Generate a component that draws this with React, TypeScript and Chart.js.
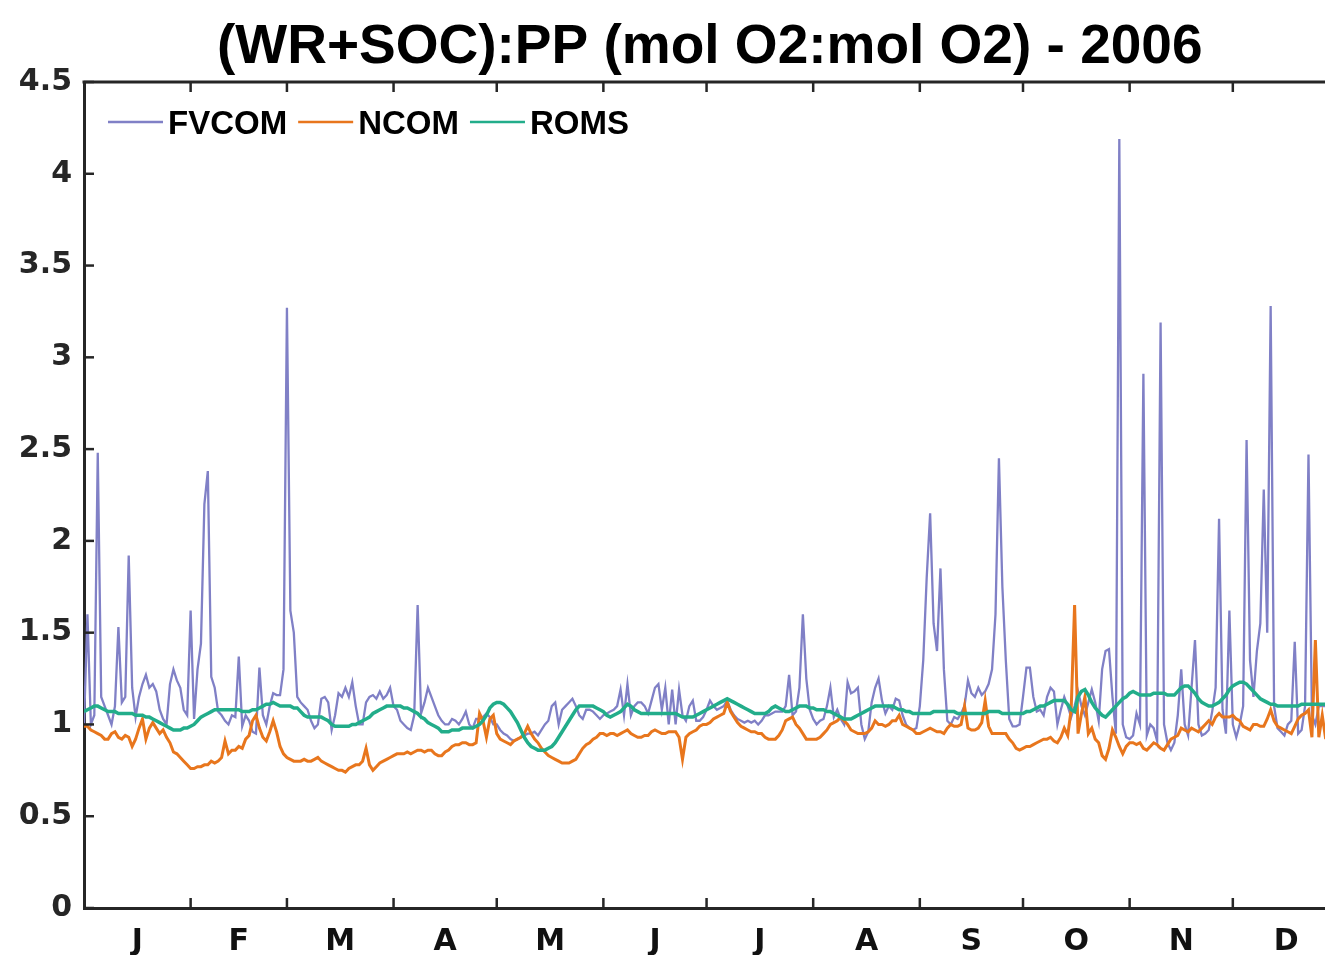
import React, { useEffect, useRef } from "react";
import { Chart, registerables } from "chart.js";

Chart.register(...registerables);

const TITLE = "(WR+SOC):PP (mol O2:mol O2) - 2006";
const SERIES_NAMES = ["FVCOM", "NCOM", "ROMS"];
const SERIES_COLORS = ["#8080c6", "#e8761d", "#22ad8a"];
const MONTH_LABELS = ["J", "F", "M", "A", "M", "J", "J", "A", "S", "O", "N", "D"];
const MONTH_STARTS = [0, 31, 59, 90, 120, 151, 181, 212, 243, 273, 304, 334, 365];
const Y_TICKS = [0, 0.5, 1, 1.5, 2, 2.5, 3, 3.5, 4, 4.5];

// daily values, day-of-year index 0..361
const FVCOM = [
  1.0, 1.6, 1.0, 1.05, 2.48, 1.15, 1.1, 1.05, 1.0, 1.1,
  1.53, 1.12, 1.15, 1.92, 1.2, 1.04, 1.15, 1.22, 1.27, 1.2,
  1.22, 1.18, 1.08, 1.03, 1.0, 1.22, 1.3, 1.24, 1.2, 1.08,
  1.05, 1.62, 1.03, 1.3, 1.44, 2.2, 2.38, 1.26, 1.2, 1.07,
  1.05, 1.02, 1.0, 1.05, 1.04, 1.37, 0.99, 1.05, 1.02, 0.96,
  0.95, 1.31, 1.05, 1.0, 1.1, 1.17, 1.16, 1.16, 1.3, 3.27,
  1.62, 1.5, 1.15, 1.12, 1.1, 1.08, 1.02, 0.98, 1.0, 1.14,
  1.15, 1.12, 0.97, 1.05, 1.17, 1.15, 1.2, 1.15, 1.23, 1.1,
  1.0, 1.0, 1.12, 1.15, 1.16, 1.14, 1.18, 1.14, 1.16, 1.2,
  1.1, 1.08, 1.02, 1.0, 0.98, 0.97, 1.05, 1.65, 1.06, 1.12,
  1.2, 1.15, 1.1, 1.05, 1.02, 1.0, 1.0, 1.03, 1.02, 1.0,
  1.03, 1.07, 1.0, 0.98, 1.03, 1.03, 1.04, 1.06, 1.04, 1.0,
  1.0, 0.97, 0.95, 0.94, 0.92, 0.91, 0.92, 0.93, 0.94, 0.95,
  0.95, 0.96, 0.94, 0.97, 1.0, 1.02, 1.1, 1.12, 1.0, 1.08,
  1.1, 1.12, 1.14, 1.1, 1.05, 1.03, 1.08, 1.08, 1.07, 1.05,
  1.03, 1.05, 1.06, 1.07, 1.08, 1.1, 1.19, 1.05, 1.22, 1.05,
  1.1, 1.12, 1.12, 1.1, 1.06, 1.13, 1.2, 1.22, 1.08, 1.2,
  1.0, 1.19, 1.0, 1.19, 1.05, 1.02, 1.1, 1.13, 1.02, 1.02,
  1.04, 1.08, 1.13, 1.1, 1.08, 1.09, 1.1, 1.13, 1.08, 1.05,
  1.03, 1.02, 1.01, 1.02, 1.01, 1.02, 1.0, 1.02, 1.05, 1.05,
  1.06, 1.07, 1.07, 1.07, 1.1, 1.27, 1.05, 1.07, 1.2, 1.6,
  1.25, 1.08, 1.03, 1.0, 1.02, 1.03, 1.1, 1.2, 1.04, 1.08,
  1.03, 1.0, 1.23, 1.17, 1.18, 1.2, 1.0, 0.92, 0.96, 1.12,
  1.2, 1.25, 1.13, 1.06, 1.1, 1.08, 1.14, 1.13, 1.05, 1.0,
  0.98, 0.97, 0.98, 1.1, 1.35, 1.8, 2.15, 1.55, 1.4, 1.85,
  1.3, 1.02, 1.0, 1.04, 1.03, 1.06, 1.1, 1.24, 1.17, 1.15,
  1.2, 1.16, 1.18, 1.22, 1.3, 1.6, 2.45, 1.75, 1.35, 1.03,
  0.99, 0.99, 1.0, 1.15, 1.31, 1.31, 1.15, 1.07, 1.08, 1.05,
  1.15, 1.2, 1.18, 1.0, 1.08, 1.15, 1.1, 1.04, 1.1, 1.18,
  1.1, 1.05, 1.12, 1.19, 1.12, 1.02, 1.3, 1.4, 1.41, 1.15,
  0.95, 4.19, 1.0, 0.93, 0.92, 0.94, 1.06, 1.0, 2.91, 0.94,
  1.0, 0.98, 0.91, 3.19, 1.0, 0.9, 0.86, 0.9, 1.05, 1.3,
  1.0, 0.94, 1.2, 1.46, 1.0, 0.94, 0.95, 0.97, 1.07, 1.2,
  2.12, 1.08, 0.95, 1.62, 1.0, 0.93, 1.0, 1.1, 2.55, 1.35,
  1.15, 1.4, 1.55, 2.28, 1.5, 3.28, 1.1, 0.98, 0.96, 0.94,
  1.0, 1.02, 1.45, 0.95, 0.97, 1.1, 2.47, 1.05, 1.0, 1.1,
  1.1, 1.1,
];

const NCOM = [
  0.99, 0.99, 0.97, 0.96, 0.95, 0.94, 0.92, 0.92, 0.95, 0.96,
  0.93, 0.92, 0.94, 0.93, 0.88, 0.92, 0.98, 1.03, 0.92, 0.98,
  1.01, 0.98, 0.95, 0.97, 0.93, 0.9, 0.85, 0.84, 0.82, 0.8,
  0.78, 0.76, 0.76, 0.77, 0.77, 0.78, 0.78, 0.8, 0.79, 0.8,
  0.82, 0.91, 0.84, 0.86, 0.86, 0.88, 0.87, 0.92, 0.94, 1.02,
  1.05, 0.98, 0.93, 0.91, 0.96, 1.02, 0.96, 0.88, 0.84, 0.82,
  0.81, 0.8, 0.8, 0.8, 0.81, 0.8, 0.8, 0.81, 0.82, 0.8,
  0.79, 0.78, 0.77, 0.76, 0.75, 0.75, 0.74, 0.76, 0.77, 0.78,
  0.78, 0.8, 0.87, 0.78, 0.75, 0.77, 0.79, 0.8, 0.81, 0.82,
  0.83, 0.84, 0.84, 0.84, 0.85, 0.84, 0.85, 0.86, 0.86, 0.85,
  0.86, 0.86, 0.84, 0.83, 0.83, 0.85, 0.86, 0.88, 0.89, 0.89,
  0.9, 0.9, 0.89, 0.89, 0.9, 1.06, 1.02, 0.93, 1.03, 1.05,
  0.95, 0.92, 0.91, 0.9, 0.89, 0.91, 0.92, 0.93, 0.95, 0.99,
  0.95, 0.92, 0.9, 0.87, 0.85, 0.83, 0.82, 0.81, 0.8, 0.79,
  0.79, 0.79, 0.8, 0.81, 0.84, 0.87, 0.89, 0.9, 0.92, 0.93,
  0.95, 0.95, 0.94, 0.95, 0.95, 0.94, 0.95, 0.96, 0.97, 0.95,
  0.94, 0.93, 0.93, 0.94, 0.94, 0.96, 0.97, 0.96, 0.95, 0.95,
  0.96, 0.96, 0.96, 0.93, 0.81, 0.93, 0.95, 0.96, 0.97, 0.99,
  1.0, 1.0, 1.01, 1.03, 1.04, 1.05, 1.06, 1.12, 1.07, 1.04,
  1.01, 0.99, 0.98, 0.97, 0.96, 0.96, 0.95, 0.95, 0.93, 0.92,
  0.92, 0.92, 0.94, 0.97, 1.02, 1.03, 1.04, 1.0, 0.98, 0.95,
  0.92, 0.92, 0.92, 0.92, 0.93, 0.95, 0.97, 1.0, 1.01, 1.02,
  1.04, 1.02, 1.0, 0.97, 0.96, 0.95, 0.95, 0.95, 0.96, 0.98,
  1.02, 1.0, 1.0, 0.99, 1.0, 1.02, 1.02, 1.05, 1.0, 0.99,
  0.98, 0.97, 0.95, 0.95, 0.96, 0.97, 0.98, 0.97, 0.96, 0.96,
  0.95, 0.98, 1.0, 0.99, 0.99, 1.0, 1.1, 0.98, 0.97, 0.97,
  0.98, 1.01, 1.13, 0.99, 0.95, 0.95, 0.95, 0.95, 0.95, 0.92,
  0.9, 0.87, 0.86, 0.87, 0.88, 0.88, 0.89, 0.9, 0.91, 0.92,
  0.92, 0.93, 0.91, 0.9, 0.93, 0.98, 0.94, 1.08, 1.65, 0.95,
  1.06, 1.15, 0.95, 0.98, 0.92, 0.9, 0.83, 0.81, 0.87, 0.97,
  0.93, 0.88, 0.84, 0.88, 0.9, 0.9, 0.89, 0.9, 0.87, 0.86,
  0.88, 0.9, 0.89, 0.87, 0.86, 0.89, 0.92, 0.93, 0.94, 0.98,
  0.97, 0.96, 0.98, 0.97, 0.96, 0.98, 1.0, 1.02, 1.0, 1.04,
  1.06, 1.04, 1.04, 1.04, 1.05, 1.03, 1.02, 0.99, 0.98, 0.97,
  1.0, 1.0, 0.99, 0.99, 1.03, 1.08, 1.02, 0.99, 0.98, 0.97,
  0.96, 0.95, 0.99, 1.03, 1.05, 1.06, 1.08, 0.93, 1.46, 0.93,
  1.05, 0.92,
];

const ROMS = [
  1.07, 1.08, 1.09, 1.1, 1.1, 1.09, 1.08, 1.07, 1.07, 1.07,
  1.06, 1.06, 1.06, 1.06, 1.06, 1.05, 1.05, 1.05, 1.04, 1.04,
  1.03, 1.02, 1.01, 1.0, 0.99, 0.98, 0.97, 0.97, 0.97, 0.98,
  0.98, 0.99, 1.0, 1.02, 1.04, 1.05, 1.06, 1.07, 1.08, 1.08,
  1.08, 1.08, 1.08, 1.08, 1.08, 1.08, 1.07, 1.07, 1.07, 1.08,
  1.08, 1.09, 1.1, 1.11, 1.11, 1.12, 1.11, 1.1, 1.1, 1.1,
  1.1, 1.09, 1.09, 1.07, 1.05, 1.04, 1.04, 1.04, 1.04, 1.04,
  1.03, 1.02, 1.0, 0.99, 0.99, 0.99, 0.99, 0.99, 1.0, 1.0,
  1.01, 1.02, 1.03, 1.04, 1.06, 1.07, 1.08, 1.09, 1.1, 1.1,
  1.1, 1.1, 1.1, 1.09, 1.09, 1.08, 1.07, 1.06, 1.04, 1.03,
  1.01, 1.0, 0.99, 0.98, 0.96, 0.96, 0.96, 0.97, 0.97, 0.97,
  0.98, 0.98, 0.98, 0.98, 0.99, 1.0, 1.02, 1.05, 1.09, 1.11,
  1.12, 1.12, 1.11, 1.09, 1.07, 1.04, 1.01, 0.97, 0.93, 0.9,
  0.88, 0.87, 0.86, 0.86, 0.86, 0.87, 0.88, 0.9, 0.93, 0.96,
  0.99, 1.02, 1.05, 1.08, 1.1, 1.1, 1.1, 1.1, 1.1, 1.09,
  1.08, 1.07, 1.05, 1.04, 1.05, 1.06, 1.07, 1.09, 1.11, 1.1,
  1.08, 1.07, 1.06, 1.06, 1.06, 1.06, 1.06, 1.06, 1.06, 1.06,
  1.06, 1.06, 1.06, 1.05, 1.04, 1.04, 1.04, 1.04, 1.05, 1.06,
  1.07, 1.08, 1.09, 1.1, 1.11, 1.12, 1.13, 1.14, 1.13, 1.12,
  1.11, 1.1, 1.09, 1.08, 1.07, 1.06, 1.06, 1.06, 1.06, 1.07,
  1.09, 1.1, 1.09, 1.08, 1.07, 1.07, 1.08, 1.09, 1.1, 1.1,
  1.1, 1.09, 1.09, 1.08, 1.08, 1.08, 1.07, 1.07, 1.06, 1.05,
  1.04, 1.03, 1.03, 1.03, 1.04, 1.05, 1.06, 1.07, 1.08, 1.09,
  1.1, 1.1, 1.1, 1.1, 1.1, 1.1, 1.09, 1.08, 1.08, 1.07,
  1.07, 1.06, 1.06, 1.06, 1.06, 1.06, 1.06, 1.07, 1.07, 1.07,
  1.07, 1.07, 1.07, 1.07, 1.06, 1.06, 1.06, 1.06, 1.06, 1.06,
  1.06, 1.06, 1.06, 1.07, 1.07, 1.07, 1.07, 1.06, 1.06, 1.06,
  1.06, 1.06, 1.06, 1.06, 1.07, 1.07, 1.08, 1.09, 1.1, 1.1,
  1.11, 1.12, 1.13, 1.13, 1.13, 1.13, 1.11, 1.08, 1.07, 1.15,
  1.18, 1.19, 1.16, 1.12, 1.09, 1.07, 1.05, 1.04, 1.06, 1.08,
  1.1, 1.12, 1.14, 1.15, 1.17, 1.18, 1.17, 1.16, 1.16, 1.16,
  1.16, 1.17, 1.17, 1.17, 1.17, 1.16, 1.16, 1.16, 1.18, 1.2,
  1.21, 1.21, 1.19, 1.17, 1.14, 1.12, 1.11, 1.1, 1.1, 1.11,
  1.12, 1.14, 1.16, 1.19, 1.21, 1.22, 1.23, 1.23, 1.22, 1.2,
  1.18, 1.16, 1.14, 1.13, 1.12, 1.11, 1.11, 1.1, 1.1, 1.1,
  1.1, 1.1, 1.1, 1.1, 1.11, 1.11, 1.11, 1.11, 1.11, 1.11,
  1.11, 1.11,
];

const SERIES_VALUES = [FVCOM, NCOM, ROMS];
const MONTH_MIDS = MONTH_LABELS.map((_, i) => (MONTH_STARTS[i] + MONTH_STARTS[i + 1]) / 2);

const AXIS_COLOR = "#262626";
const TICK_FONT = "'DejaVu Sans', sans-serif";
const TEXT_FONT = "'Liberation Sans', Arial, sans-serif";

const decorPlugin = {
  id: "matlabDecor",
  afterDraw(chart: any) {
    const ctx = chart.ctx as CanvasRenderingContext2D;
    const xs = chart.scales.x;
    const ys = chart.scales.y;
    const { left, right, top, bottom } = chart.chartArea;
    ctx.save();
    ctx.strokeStyle = AXIS_COLOR;
    ctx.lineCap = "butt";
    // top box line
    ctx.lineWidth = 3;
    ctx.beginPath();
    ctx.moveTo(left - 1.5, top);
    ctx.lineTo(right, top);
    ctx.stroke();
    // inward ticks
    ctx.lineWidth = 2.5;
    const tl = 10;
    MONTH_STARTS.slice(1).forEach((d) => {
      const px = xs.getPixelForValue(d);
      if (px > right) return;
      ctx.beginPath();
      ctx.moveTo(px, bottom);
      ctx.lineTo(px, bottom - tl);
      ctx.moveTo(px, top);
      ctx.lineTo(px, top + tl);
      ctx.stroke();
    });
    Y_TICKS.forEach((v) => {
      const py = ys.getPixelForValue(v);
      ctx.beginPath();
      ctx.moveTo(left, py);
      ctx.lineTo(left + tl, py);
      ctx.stroke();
    });
    // title
    ctx.fillStyle = "#000";
    ctx.font = `bold 55px ${TEXT_FONT}`;
    ctx.textAlign = "center";
    ctx.textBaseline = "alphabetic";
    const cx = (xs.getPixelForValue(MONTH_STARTS[0]) + xs.getPixelForValue(MONTH_STARTS[12])) / 2;
    ctx.fillText(TITLE, cx - 2, 63);
    // legend
    ctx.font = `bold 33px ${TEXT_FONT}`;
    ctx.textAlign = "left";
    let x = left + 24;
    const ly = top + 40;
    chart.data.datasets.forEach((ds: any) => {
      ctx.strokeStyle = ds.borderColor;
      ctx.lineWidth = Math.min(ds.borderWidth, 2.5);
      ctx.beginPath();
      ctx.moveTo(x, ly);
      ctx.lineTo(x + 55, ly);
      ctx.stroke();
      const tx = x + 60;
      ctx.fillStyle = "#000";
      ctx.fillText(ds.label, tx, ly + 11.5);
      x = tx + ctx.measureText(ds.label).width + 11;
    });
    ctx.restore();
  },
};

export default function App() {
  const canvasRef = useRef<HTMLCanvasElement | null>(null);

  useEffect(() => {
    if (!canvasRef.current) return;
    const widths = [2.3, 3, 3.5];
    const orders = [3, 2, 1];
    const chart = new Chart(canvasRef.current, {
      type: "line",
      data: {
        datasets: SERIES_NAMES.map((name, i) => ({
          label: name,
          data: SERIES_VALUES[i].map((v, d) => ({ x: d, y: v })),
          borderColor: SERIES_COLORS[i],
          backgroundColor: SERIES_COLORS[i],
          borderWidth: widths[i],
          pointRadius: 0,
          tension: 0,
          order: orders[i],
        })),
      },
      options: {
        responsive: false,
        animation: false,
        layout: { padding: { top: 82, left: 0, right: 0, bottom: 0 } },
        plugins: {
          legend: { display: false },
          title: { display: false },
          tooltip: { enabled: false },
        },
        scales: {
          x: {
            type: "linear",
            min: 0,
            max: 360.8,
            grid: { display: false, drawTicks: false },
            border: { display: true, color: AXIS_COLOR, width: 3 },
            afterBuildTicks: (scale: any) => {
              scale.ticks = MONTH_MIDS.map((v) => ({ value: v }));
            },
            afterFit: (scale: any) => {
              scale.height = 47;
            },
            ticks: {
              autoSkip: false,
              maxRotation: 0,
              minRotation: 0,
              padding: 16,
              color: "#111",
              font: { family: TICK_FONT, size: 30, weight: "bold" },
              callback: (_v: any, i: number) => MONTH_LABELS[i],
            },
          },
          y: {
            type: "linear",
            min: 0,
            max: 4.5,
            grid: { display: false, drawTicks: false },
            border: { display: true, color: AXIS_COLOR, width: 3 },
            afterBuildTicks: (scale: any) => {
              scale.ticks = Y_TICKS.map((v) => ({ value: v }));
            },
            afterFit: (scale: any) => {
              scale.width = 84;
            },
            ticks: {
              padding: 12,
              color: "#262626",
              font: { family: TICK_FONT, size: 30, weight: "bold" },
              callback: (v: any) => String(v),
            },
          },
        },
      },
      plugins: [decorPlugin],
    });
    return () => chart.destroy();
  }, []);

  return (
    <div style={{ position: "fixed", left: 0, top: 0, width: 1325, height: 955, background: "#fff" }}>
      <canvas ref={canvasRef} width={1325} height={955} />
    </div>
  );
}
